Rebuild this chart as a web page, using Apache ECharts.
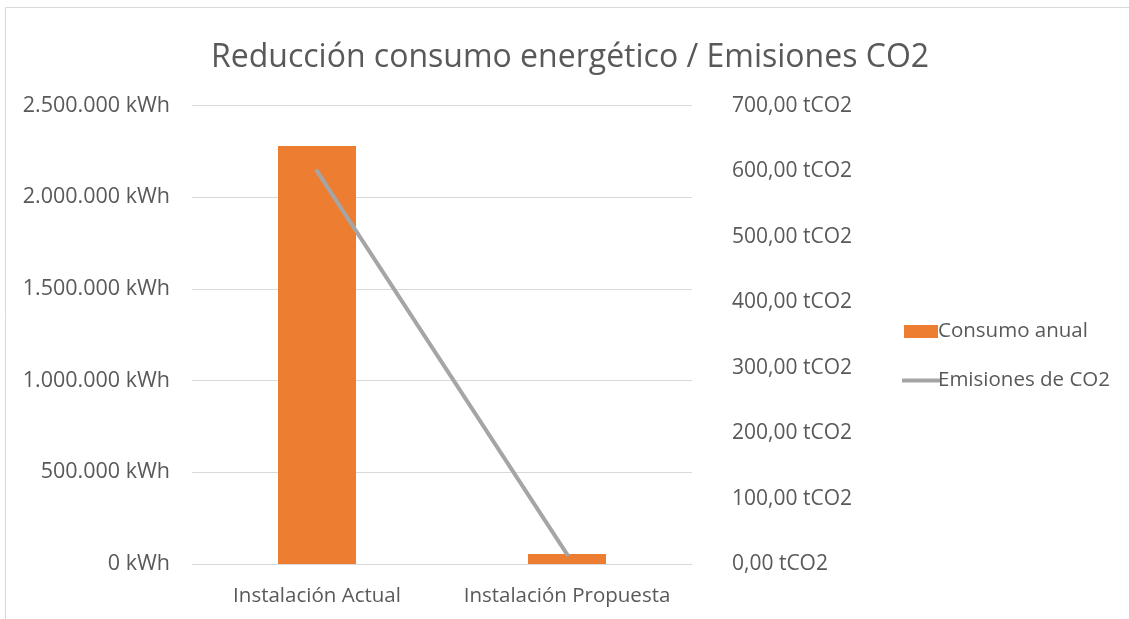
<!DOCTYPE html>
<html>
<head>
<meta charset="utf-8">
<script src="https://cdn.jsdelivr.net/npm/echarts@6/dist/echarts.min.js"></script>
<style>
html,body{margin:0;padding:0;background:#fff;}
#c{width:1129px;height:619px;}
</style>
</head>
<body>
<div id="c"></div>
<script>
const categories = ['Instalación Actual', 'Instalación Propuesta'];
const consumoAnual = [2280000, 54000];
const emisionesCO2 = [600, 15];
const seriesNames = ['Consumo anual', 'Emisiones de CO2'];
const titleText = 'Reducción consumo energético / Emisiones CO2';

const FONT = 'Open Sans';
const LABEL = '#595959';

function kwh(v) {
  return String(v).replace(/\B(?=(\d{3})+(?!\d))/g, '.') + ' kWh';
}
function tco2(v) {
  return v.toFixed(2).replace('.', ',') + ' tCO2';
}

const chart = echarts.init(document.getElementById('c'), null, {renderer: 'canvas'});
chart.setOption({
  backgroundColor: '#ffffff',
  animation: false,
  textStyle: {fontFamily: FONT},
  title: {
    text: titleText,
    left: 206,
    top: 37,
    textStyle: {fontFamily: FONT, fontSize: 32, fontWeight: 'normal', color: LABEL}
  },
  graphic: [
    {type: 'line', shape: {x1: 5.5, y1: 7.5, x2: 1129, y2: 7.5}, style: {stroke: '#D9D9D9', lineWidth: 1}},
    {type: 'line', shape: {x1: 5.5, y1: 7.5, x2: 5.5, y2: 619}, style: {stroke: '#D9D9D9', lineWidth: 1}}
  ],
  legend: {
    orient: 'vertical',
    left: 897,
    top: 316,
    itemWidth: 38,
    itemHeight: 13,
    itemGap: 28,
    symbolKeepAspect: true,
    textStyle: {fontFamily: FONT, fontSize: 20.5, color: LABEL, padding: [0, 0, 0, -7]},
    data: [
      {name: seriesNames[0], icon: 'path://M0,0H34V13H0Z'},
      {name: seriesNames[1], icon: 'path://M0,0H38V4H0Z', lineStyle: {width: 0, opacity: 0}}
    ]
  },
  grid: {
    left: 192, right: 437, top: 105.7, bottom: 55,
    containLabel: false, outerBoundsMode: 'none'
  },
  xAxis: {
    type: 'category',
    data: categories,
    axisLine: {show: true, lineStyle: {color: '#D9D9D9', width: 1}},
    axisTick: {show: false},
    axisLabel: {fontFamily: FONT, fontSize: 20.5, color: LABEL, margin: 22, interval: 0, hideOverlap: false}
  },
  yAxis: [
    {
      type: 'value', min: 0, max: 2500000, interval: 500000,
      axisLine: {show: false}, axisTick: {show: false},
      splitLine: {lineStyle: {color: '#D9D9D9', width: 1}},
      axisLabel: {fontFamily: FONT, fontSize: 21.5, color: LABEL, margin: 22, formatter: kwh}
    },
    {
      type: 'value', min: 0, max: 700, interval: 100,
      axisLine: {show: false}, axisTick: {show: false},
      splitLine: {show: false},
      axisLabel: {fontFamily: FONT, fontSize: 21, color: LABEL, margin: 40, formatter: tco2}
    }
  ],
  series: [
    {
      name: seriesNames[0], type: 'bar', yAxisIndex: 0,
      data: consumoAnual, barWidth: 78,
      itemStyle: {color: '#ED7D31'}
    },
    {
      name: seriesNames[1], type: 'line', yAxisIndex: 1,
      data: emisionesCO2, symbol: 'none',
      lineStyle: {color: '#A5A5A5', width: 4, cap: 'square'},
      itemStyle: {color: '#A5A5A5'}
    }
  ]
});
</script>
</body>
</html>
